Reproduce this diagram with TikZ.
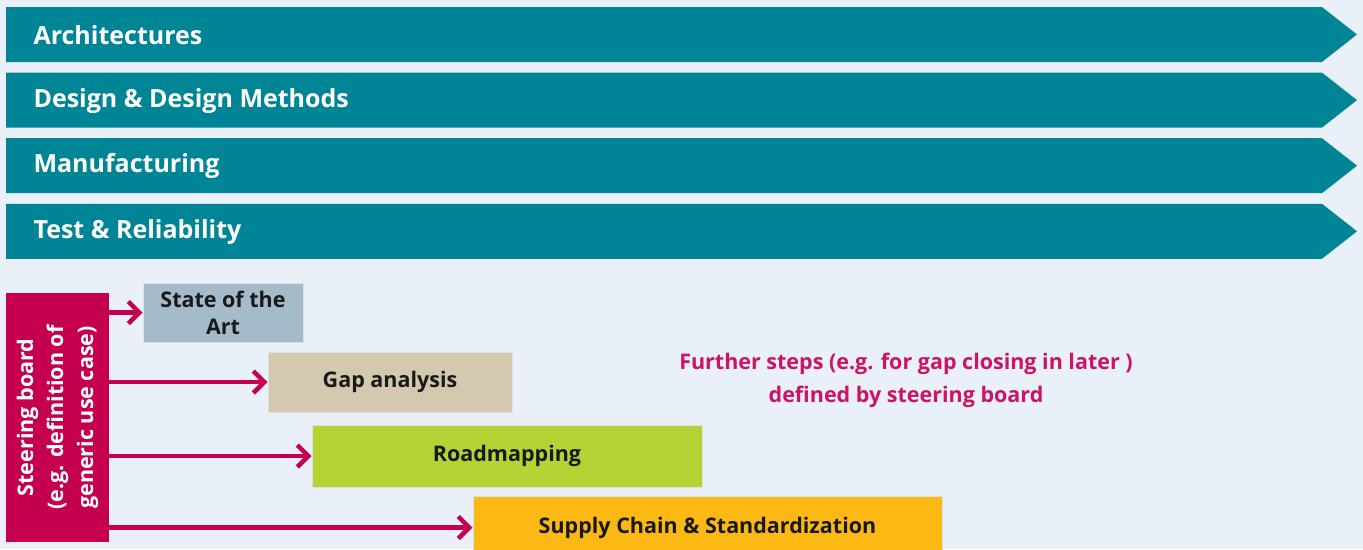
\documentclass[tikz,border=0pt]{standalone}
\usepackage{fontspec}
\setmainfont{Open Sans}
\usetikzlibrary{arrows.meta,positioning}
\definecolor{bannerteal}{HTML}{008596}
\definecolor{boardred}{HTML}{C4004F}
\definecolor{notepink}{HTML}{CC1464}
\definecolor{bgblue}{HTML}{E9F0F8}
\definecolor{sotablue}{HTML}{A6BBC9}
\definecolor{gaptan}{HTML}{D4C8AE}
\definecolor{roadgreen}{HTML}{B4D335}
\definecolor{supplyorange}{HTML}{FDB913}
\tikzset{
  banner/.style={fill=bannerteal},
  bannertext/.style={anchor=west, text=white, font=\fontsize{25}{28}\selectfont\bfseries},
  stepbox/.style={draw=black!12, line width=1pt, inner sep=0pt, text=black!90, align=center,
    font=\fontsize{21.5}{27}\selectfont\bfseries},
  feed/.style={draw=boardred, line width=4.5pt, -{Straight Barb[length=11pt,width=22pt]}},
}

\begin{document}
\begin{tikzpicture}[x=1pt,y=-1pt]
\fill[bgblue] (0,0) rectangle (1363,549);
\useasboundingbox (0,0) rectangle (1363,549);

% theme banners
\foreach \lbl [count=\i] in {Architectures,Design \& Design Methods,Manufacturing,Test \& Reliability}
{
  \pgfmathsetmacro{\ytop}{7+(\i-1)*65.6}
  \fill[banner] (6,\ytop) -- (1322,\ytop) -- (1357,\ytop+27.5) -- (1322,\ytop+55) -- (6,\ytop+55) -- cycle;
  \node[bannertext] (theme\i) at (30,\ytop+28) {\lbl};
}

% steering board
\node[fill=boardred, minimum width=103pt, minimum height=249pt, inner sep=0pt] (board) at (57.5,417.5) {};
\node[rotate=90, text=white, align=center, font=\fontsize{21.5}{30}\selectfont\bfseries] (boardtext) at (board.center)
  {Steering board\\(e.g. definition of\\generic use case)};

% steps
\node[stepbox, fill=sotablue, minimum width=160pt, minimum height=59pt] (sota) at (223,312.5) {State of the\\Art};
\node[stepbox, fill=gaptan, minimum width=244pt, minimum height=60pt] (gap) at (390,382) {Gap analysis};
\node[stepbox, fill=roadgreen, minimum width=390pt, minimum height=62pt] (road) at (507,456) {Roadmapping};
\node[stepbox, fill=supplyorange, minimum width=469pt, minimum height=62pt] (supply) at (707.5,527.5) {Supply Chain \& Standardization};

\foreach \s in {sota,gap,road,supply}
  \draw[feed] (board.east |- \s.west) -- (\s.west);

\node[text=notepink, align=center, font=\fontsize{21.5}{33}\selectfont\bfseries] (note) at (906,380)
  {Further steps (e.g. for gap closing in later )\\defined by steering board};
\end{tikzpicture}
\end{document}
